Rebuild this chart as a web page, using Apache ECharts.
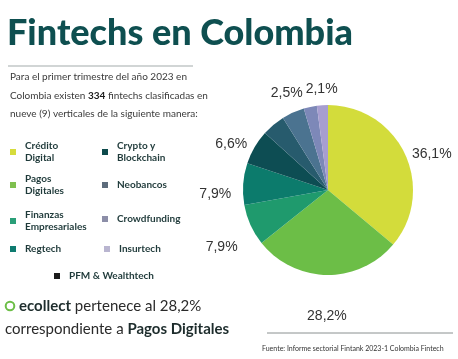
<!DOCTYPE html>
<html>
<head>
<meta charset="utf-8">
<script src="https://cdn.jsdelivr.net/npm/echarts@6/dist/echarts.min.js"></script>
<style>
html,body{margin:0;padding:0;background:#fff;}
#chart{width:458px;height:359px;}
</style>
</head>
<body>
<div id="chart"></div>
<script>
// ---- data ----
const categories = ['Crédito Digital','Pagos Digitales','Finanzas Empresariales','Regtech','Crypto y Blockchain','PFM & Wealthtech','Neobancos','Crowdfunding','Insurtech'];
const shares = [36.1, 28.2, 7.9, 7.9, 6.6, 4.4, 4.3, 2.5, 2.1];
const shownLabels = [true, true, true, true, true, false, false, true, true];
const legendNames = ['Crédito\nDigital','Pagos\nDigitales','Finanzas\nEmpresariales','Regtech','Crypto y\nBlockchain','PFM & Wealthtech','Neobancos','Crowdfunding','Insurtech'];

// ---- styles ----
const sliceColors = ['#d3dc3b','#6cbe47','#1f9a6d','#0c7b6c','#0d4d53','#275b6d','#4b7390','#7d88b8','#a79ed0'];
const legendColors = ['#d6dc3c','#7fc04f','#2a9f78','#0e7b70','#0d4a4c','#1c1c1c','#5d6c7c','#8c8ea8','#b9b5d0'];
// legend placement: [left, top]
const legendPos = [[10,140],[10,173],[10,209],[10,243],[102,140],[54,270],[102,179],[102,213],[104,243]];
// label nudges [dx, dy]
const labelNudge = [[-4,5],[20,29],[-2,17],[0,11],[3,3],[0,0],[0,0],[-5,-2],[16,-4]];

const chart = echarts.init(document.getElementById('chart'));

const legends = categories.map((c, i) => ({
  left: legendPos[i][0], top: legendPos[i][1],
  padding: 0, orient: 'vertical', selectedMode: false,
  icon: 'path://M0,0L10,0L10,10L0,10Z', itemWidth: 14, itemHeight: 6, symbolKeepAspect: true,
  data: [{ name: c, itemStyle: { color: legendColors[i] } }],
  formatter: () => legendNames[i],
  textStyle: { fontFamily: 'Lato', fontWeight: 'bold', fontSize: 10, lineHeight: 12, color: '#1f3a3a' }
}));

const pieData = categories.map((c, i) => ({
  name: c, value: shares[i],
  itemStyle: { color: sliceColors[i] },
  label: { show: shownLabels[i] }
}));

chart.setOption({
  animation: false,
  legend: legends,
  series: [{
    type: 'pie',
    center: [328, 190],
    radius: 85,
    startAngle: 90,
    clockwise: true,
    avoidLabelOverlap: false,
    data: pieData,
    label: {
      position: 'outside',
      formatter: p => p.value.toFixed(1).replace('.', ',') + '%',
      fontFamily: 'Liberation Sans', fontSize: 14, color: '#333',
      distanceToLabelLine: 0
    },
    labelLine: { show: false, length: 12, length2: 0 },
    labelLayout: p => ({ dx: labelNudge[p.dataIndex][0], dy: labelNudge[p.dataIndex][1] }),
    emphasis: { disabled: true }
  }],
  graphic: [
    { type: 'text', left: 7, top: 15, style: { text: 'Fintechs en Colombia', font: '900 36px Lato', fill: '#0e4f50' } },
    { type: 'line', shape: { x1: 8, y1: 66, x2: 193, y2: 66 }, style: { stroke: '#a3abab', lineWidth: 1 } },
    { type: 'text', left: 10, top: 68, style: {
        text: 'Para el primer trimestre del año 2023 en\nColombia existen {b|334} fintechs clasificadas en\nnueve (9) verticales de la siguiente manera:',
        font: '10px Lato', fill: '#3a3a3a', lineHeight: 18.5,
        rich: { b: { fontWeight: 'bold', fontFamily: 'Lato', fontSize: 10, fill: '#1a1a1a', lineHeight: 18.5 } }
    } },
    { type: 'circle', shape: { cx: 10, cy: 306, r: 4.3 }, style: { fill: 'none', stroke: '#6cbe47', lineWidth: 2 } },
    { type: 'text', left: 19, top: 296, style: {
        text: '{b|ecollect} pertenece al 28,2%',
        font: '15px Lato', fill: '#2a2a2a', lineHeight: 20,
        rich: { b: { fontWeight: 'bold', fontFamily: 'Lato', fontSize: 15, fill: '#1d2c2c', lineHeight: 20 } }
    } },
    { type: 'text', left: 5, top: 319, style: {
        text: 'correspondiente a {b|Pagos Digitales}',
        font: '15px Lato', fill: '#2a2a2a', lineHeight: 20,
        rich: { b: { fontWeight: 'bold', fontFamily: 'Lato', fontSize: 15, fill: '#1d2c2c', lineHeight: 20 } }
    } },
    { type: 'line', shape: { x1: 267, y1: 333, x2: 453, y2: 333 }, style: { stroke: '#8a9090', lineWidth: 1 } },
    { type: 'text', left: 262, top: 345, style: { text: 'Fuente: Informe sectorial Fintank 2023-1 Colombia Fintech', font: '7px Lato', fill: '#333' } }
  ]
});
</script>
</body>
</html>
